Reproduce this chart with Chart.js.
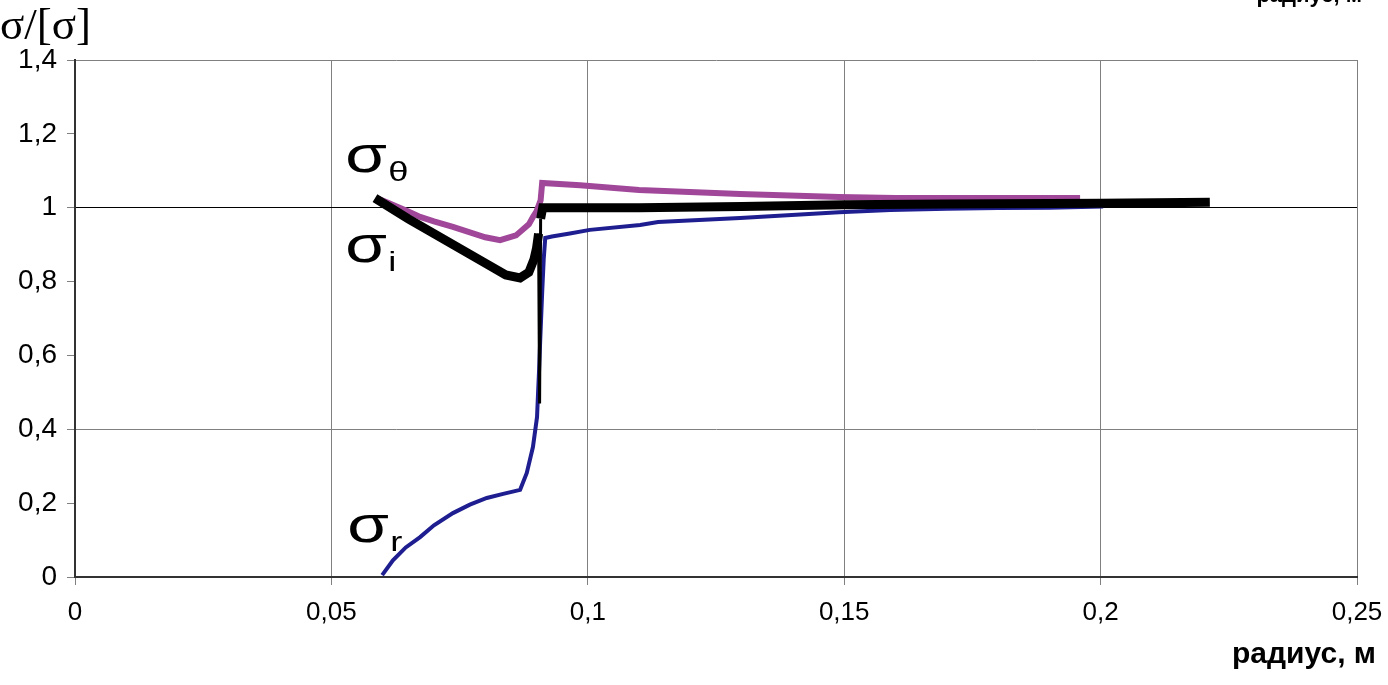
<!DOCTYPE html>
<html>
<head>
<meta charset="utf-8">
<script src="https://cdn.jsdelivr.net/npm/chart.js@4.4.1/dist/chart.umd.min.js"></script>
<style>
  body { margin: 0; background: #fff; }
  canvas { display: block; }
</style>
</head>
<body>
<canvas id="chart" width="1388" height="685"></canvas>
<script>
// sigma_r (radial)
var rX = [0.0599, 0.062, 0.0645, 0.0673, 0.070, 0.0737, 0.077, 0.0803, 0.0835, 0.0868, 0.0881, 0.0893, 0.0901, 0.0903, 0.0905, 0.0907, 0.0911, 0.0914, 0.0917,
          0.093, 0.0965, 0.1004, 0.1102, 0.1137, 0.1297, 0.149, 0.159, 0.170, 0.180, 0.190, 0.2005];
var rY = [0.005, 0.045, 0.08, 0.108, 0.14, 0.173, 0.196, 0.214, 0.225, 0.236, 0.282, 0.352, 0.433, 0.498, 0.56, 0.634, 0.77, 0.86, 0.918,
          0.922, 0.93, 0.94, 0.953, 0.961, 0.972, 0.988, 0.994, 0.997, 0.999, 1.0, 1.003];

// sigma_theta (hoop)
var tX = [0.059, 0.0608, 0.065, 0.0673, 0.070, 0.0737, 0.080, 0.0829, 0.086, 0.0885, 0.0893, 0.0900, 0.0908, 0.0911, 0.0985, 0.110, 0.1297, 0.149, 0.160, 0.180, 0.196];
var tY = [1.025, 1.015, 0.99, 0.975, 0.963, 0.948, 0.92, 0.912, 0.925, 0.955, 0.975, 0.99, 1.02, 1.067, 1.061, 1.048, 1.037, 1.029, 1.026, 1.026, 1.026];

// sigma_i (equivalent)
var iX = [0.0585, 0.065, 0.070, 0.075, 0.080, 0.084, 0.0868, 0.0885, 0.0895, 0.0900, 0.0904, 0.0906, 0.0908, 0.0912, 0.110, 0.130, 0.150, 0.170, 0.200, 0.2213];
var iY = [1.026, 0.97, 0.93, 0.89, 0.85, 0.818, 0.81, 0.825, 0.86, 0.89, 0.93, 0.47, 0.97, 1.0, 1.0, 1.003, 1.008, 1.01, 1.012, 1.015];

var xTicks = [0, 0.05, 0.1, 0.15, 0.2, 0.25];
var yTicks = [0, 0.2, 0.4, 0.6, 0.8, 1, 1.2, 1.4];

// curve captions, placed in data units
var capText = ['σ', 'σ', 'σ'];
var capSub = ['θ', 'i', 'r'];
var capX = [0.0527, 0.0527, 0.0531];
var capY = [1.097, 0.853, 0.095];

function pts(xs, ys) {
  return xs.map(function (x, k) { return { x: x, y: ys[k] }; });
}
function comma(v) {
  return String(Math.round(v * 1000) / 1000).replace('.', ',');
}
function near(a, b) { return Math.abs(a - b) < 1e-6; }

var textPlugin = {
  id: 'texts',
  afterDatasetsDraw: function (chart) {
    var c = chart.ctx, xs = chart.scales.x, ys = chart.scales.y;
    c.save();
    c.fillStyle = '#000';
    c.textBaseline = 'alphabetic';
    c.textAlign = 'left';
    for (var k = 0; k < capText.length; k++) {
      var px = xs.getPixelForValue(capX[k]);
      var py = ys.getPixelForValue(capY[k]);
      c.save();
      c.translate(px, py);
      c.scale(1.3, 1);
      c.font = '52px "Liberation Sans", Arial, sans-serif';
      c.fillText(capText[k], 0, 0);
      var w = c.measureText(capText[k]).width;
      c.font = '28px "Liberation Sans", Arial, sans-serif';
      c.fillText(capSub[k], w + 1, 9);
      c.restore();
    }
    // axis titles
    c.font = '45px "Liberation Serif", "Times New Roman", serif';
    c.fillText('σ/[σ]', 0, 39);
    c.font = 'bold 30px "Liberation Sans", Arial, sans-serif';
    c.textAlign = 'right';
    c.fillText('радиус, м', 1376, 663);
    c.font = 'bold 22px "Liberation Sans", Arial, sans-serif';
    c.fillText('радиус, м', 1362, 2);
    c.restore();
  }
};

new Chart(document.getElementById('chart'), {
  type: 'scatter',
  data: {
    datasets: [{
      label: 'σi',
      data: pts(iX, iY),
      showLine: true,
      borderColor: '#000000',
      backgroundColor: '#000000',
      borderWidth: 9,
      pointRadius: 0,
      tension: 0,
      segment: {
        borderWidth: function (ctx) {
          return (ctx.p0.parsed.y < 0.6 || ctx.p1.parsed.y < 0.6) ? 3 : undefined;
        }
      }
    }, {
      label: 'σθ',
      data: pts(tX, tY),
      showLine: true,
      borderColor: '#a0479a',
      backgroundColor: '#a0479a',
      borderWidth: 6,
      pointRadius: 0,
      tension: 0
    }, {
      label: 'σr',
      data: pts(rX, rY),
      showLine: true,
      borderColor: '#1e1e90',
      backgroundColor: '#1e1e90',
      borderWidth: 4,
      pointRadius: 0,
      tension: 0
    }]
  },
  options: {
    responsive: false,
    animation: false,
    layout: { padding: { top: 60, right: 31, left: 0, bottom: 0 } },
    plugins: { legend: { display: false }, tooltip: { enabled: false } },
    scales: {
      x: {
        type: 'linear',
        min: 0,
        max: 0.25,
        afterBuildTicks: function (s) { s.ticks = xTicks.map(function (v) { return { value: v }; }); },
        afterFit: function (s) { s.height = 108; s.paddingLeft = 0; s.paddingRight = 0; },
        border: { color: '#333', width: 2 },
        grid: { color: '#808080', lineWidth: 1, tickLength: 8, tickColor: '#808080' },
        ticks: {
          color: '#000',
          padding: 12,
          maxRotation: 0,
          font: { family: 'Liberation Sans, Arial', size: 26 },
          callback: function (v) { return comma(v); }
        }
      },
      y: {
        type: 'linear',
        min: 0,
        max: 1.4,
        afterBuildTicks: function (s) { s.ticks = yTicks.map(function (v) { return { value: v }; }); },
        afterFit: function (s) { s.width = 75; s.paddingTop = 0; s.paddingBottom = 0; },
        border: { color: '#333', width: 2 },
        grid: {
          lineWidth: 1,
          tickLength: 8,
          tickColor: '#808080',
          color: function (ctx) {
            var v = ctx.tick ? ctx.tick.value : 0;
            if (near(v, 1)) return '#000';
            if (near(v, 0.4) || near(v, 1.4)) return '#808080';
            return 'rgba(0,0,0,0)';
          }
        },
        ticks: {
          color: '#000',
          padding: 10,
          font: { family: 'Liberation Sans, Arial', size: 28 },
          callback: function (v) { return comma(v); }
        }
      }
    }
  },
  plugins: [textPlugin]
});
</script>
</body>
</html>
